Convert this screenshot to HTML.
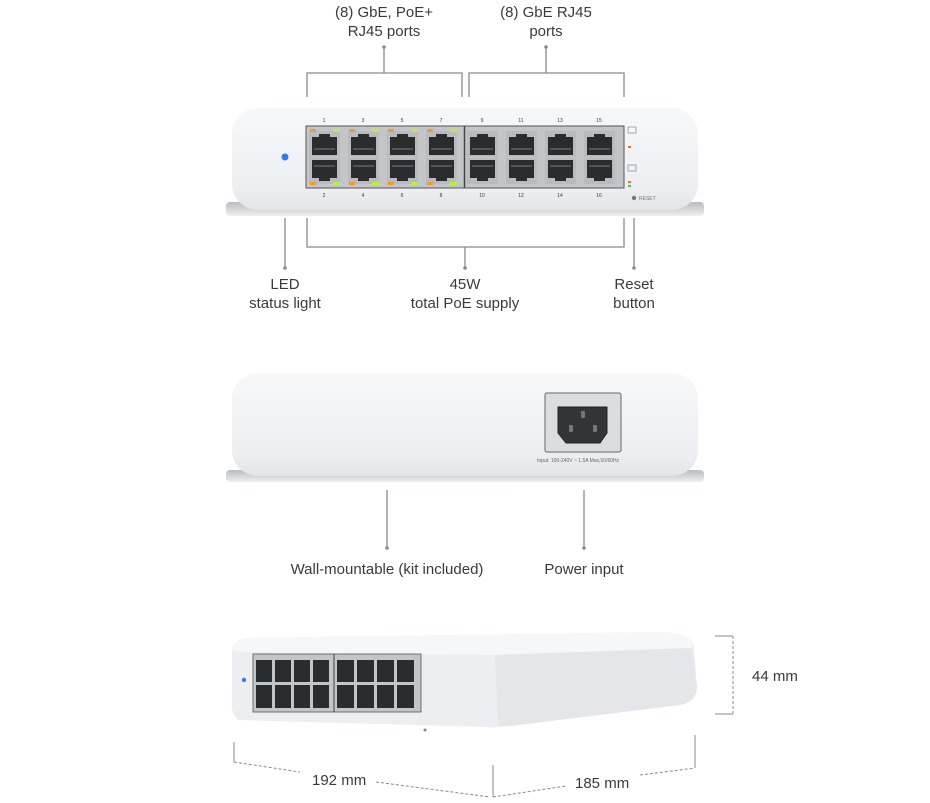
<!DOCTYPE html>
<html><head><meta charset="utf-8"><style>
html,body{margin:0;padding:0;background:#fff;width:930px;height:803px;overflow:hidden}
svg{display:block}
text{font-family:"Liberation Sans",sans-serif;fill:#3a3a3a}
</style></head><body>
<svg width="930" height="803" viewBox="0 0 930 803" xmlns="http://www.w3.org/2000/svg">
<defs>
<linearGradient id="body" x1="0" y1="0" x2="0" y2="1">
<stop offset="0" stop-color="#f7f8fa"/><stop offset="0.8" stop-color="#eceef1"/><stop offset="1" stop-color="#e2e4e8"/>
</linearGradient>
<linearGradient id="base" x1="0" y1="0" x2="0" y2="1">
<stop offset="0" stop-color="#b8bbc0"/><stop offset="1" stop-color="#eef0f2"/>
</linearGradient>
<g id="jackT">
<rect x="0" y="0" width="31" height="26" fill="#b9bbbe"/>
<path d="M3 6 H10 V3 H21 V6 H28 V24 H3 Z" fill="#2a2c2e"/>
<rect x="5" y="17" width="21" height="2" fill="#555"/>
</g>
<g id="jackB">
<rect x="0" y="0" width="31" height="26" fill="#b9bbbe"/>
<path d="M3 2 H28 V20 H21 V23 H10 V20 H3 Z" fill="#2a2c2e"/>
<rect x="5" y="7" width="21" height="2" fill="#555"/>
</g>
</defs>

<!-- Top labels -->
<g font-size="15" text-anchor="middle">
<text x="384" y="17">(8) GbE, PoE+</text>
<text x="384" y="36">RJ45 ports</text>
<text x="546" y="17">(8) GbE RJ45</text>
<text x="546" y="36">ports</text>
</g>
<g stroke="#8a8a8a" stroke-width="1.3" fill="none">
<path d="M307 97 V73 H462 V97"/><path d="M384 73 V47"/>
<path d="M469 97 V73 H624 V97"/><path d="M546 73 V47"/>
<path d="M307 218 V247 H624 V218"/><path d="M465 247 V268"/>
<path d="M285 218 V268"/><path d="M634 218 V268"/>
<path d="M387 490 V548"/><path d="M584 490 V548"/>
</g>
<g fill="#8a8a8a">
<circle cx="384" cy="47" r="1.8"/><circle cx="546" cy="47" r="1.8"/>
<circle cx="465" cy="268" r="1.8"/><circle cx="285" cy="268" r="1.8"/><circle cx="634" cy="268" r="1.8"/>
<circle cx="387" cy="548" r="1.8"/><circle cx="584" cy="548" r="1.8"/>
</g>
<g font-size="15" text-anchor="middle">
<text x="285" y="289">LED</text><text x="285" y="308">status light</text>
<text x="465" y="289">45W</text><text x="465" y="308">total PoE supply</text>
<text x="634" y="289">Reset</text><text x="634" y="308">button</text>
<text x="387" y="574">Wall-mountable (kit included)</text>
<text x="584" y="574">Power input</text>
</g>

<!-- Top device -->
<rect x="226" y="202" width="478" height="14" rx="4" fill="url(#base)"/>
<rect x="232" y="108" width="466" height="102" rx="26" fill="url(#body)"/>
<circle cx="285" cy="157" r="3.5" fill="#2f7cf0"/>
<rect x="306" y="126" width="318" height="62" fill="#c3c5c8" stroke="#555" stroke-width="1"/>
<line x1="464.5" y1="126" x2="464.5" y2="188" stroke="#444" stroke-width="1.5"/>
<g>
<use href="#jackT" x="309" y="131"/><use href="#jackT" x="348" y="131"/><use href="#jackT" x="387" y="131"/><use href="#jackT" x="426" y="131"/>
<use href="#jackT" x="467" y="131"/><use href="#jackT" x="506" y="131"/><use href="#jackT" x="545" y="131"/><use href="#jackT" x="584" y="131"/>
<use href="#jackB" x="309" y="158"/><use href="#jackB" x="348" y="158"/><use href="#jackB" x="387" y="158"/><use href="#jackB" x="426" y="158"/>
<use href="#jackB" x="467" y="158"/><use href="#jackB" x="506" y="158"/><use href="#jackB" x="545" y="158"/><use href="#jackB" x="584" y="158"/>
</g>
<g>
<rect x="310" y="129" width="6" height="3" fill="#f29a2e"/><rect x="333" y="129" width="7" height="3" fill="#b8ee3c"/>
<rect x="349" y="129" width="6" height="3" fill="#f29a2e"/><rect x="372" y="129" width="7" height="3" fill="#b8ee3c"/>
<rect x="388" y="129" width="6" height="3" fill="#f29a2e"/><rect x="411" y="129" width="7" height="3" fill="#b8ee3c"/>
<rect x="427" y="129" width="6" height="3" fill="#f29a2e"/><rect x="450" y="129" width="7" height="3" fill="#b8ee3c"/>
<rect x="310" y="182" width="6" height="3" fill="#f29a2e"/><rect x="333" y="182" width="7" height="3" fill="#b8ee3c"/>
<rect x="349" y="182" width="6" height="3" fill="#f29a2e"/><rect x="372" y="182" width="7" height="3" fill="#b8ee3c"/>
<rect x="388" y="182" width="6" height="3" fill="#f29a2e"/><rect x="411" y="182" width="7" height="3" fill="#b8ee3c"/>
<rect x="427" y="182" width="6" height="3" fill="#f29a2e"/><rect x="450" y="182" width="7" height="3" fill="#b8ee3c"/>
</g>
<g font-size="5" text-anchor="middle" style="fill:#999">
<text x="324" y="122">1</text><text x="363" y="122">3</text><text x="402" y="122">5</text><text x="441" y="122">7</text>
<text x="482" y="122">9</text><text x="521" y="122">11</text><text x="560" y="122">13</text><text x="599" y="122">15</text>
<text x="324" y="197">2</text><text x="363" y="197">4</text><text x="402" y="197">6</text><text x="441" y="197">8</text>
<text x="482" y="197">10</text><text x="521" y="197">12</text><text x="560" y="197">14</text><text x="599" y="197">16</text>
</g>
<rect x="628" y="127" width="8" height="6" fill="none" stroke="#777" stroke-width="0.6"/>
<rect x="628" y="165" width="8" height="6" fill="none" stroke="#777" stroke-width="0.6"/>
<rect x="628" y="146" width="3" height="2" fill="#f07030"/>
<rect x="628" y="181" width="3" height="2" fill="#f07030"/><rect x="628" y="185" width="3" height="2" fill="#50c050"/>
<circle cx="634" cy="198" r="2.2" fill="#777"/>
<text x="639" y="200" font-size="5" style="fill:#777">RESET</text>

<!-- Middle device -->
<rect x="226" y="470" width="478" height="12" rx="4" fill="url(#base)"/>
<rect x="232" y="373" width="466" height="103" rx="26" fill="url(#body)"/>
<rect x="545" y="393" width="76" height="59" rx="2" fill="#dcdde0" stroke="#666" stroke-width="1"/>
<path d="M558 407 H607 V433 L600 443 H566 L558 433 Z" fill="#333436" stroke="#222"/>
<rect x="581" y="411" width="4" height="7" rx="1" fill="#777"/>
<rect x="569" y="425" width="4" height="7" rx="1" fill="#777"/>
<rect x="593" y="425" width="4" height="7" rx="1" fill="#777"/>
<text x="537" y="462" font-size="5" style="fill:#666">Input: 100-240V ~ 1.5A Max,50/60Hz</text>

<!-- Bottom perspective device -->
<path d="M238 720 Q230 712 232 700 L232 650 Q234 640 246 638 L660 632 Q690 633 694 645 L697 688 Q696 702 680 705 L510 726 Q495 728 485 727 Z" fill="#eceef1"/>
<path d="M232 650 Q234 640 246 638 L660 632 Q690 633 694 645 L690 648 L500 655 L240 652 Z" fill="#f6f7f9"/>
<path d="M495 655 L692 648 L697 688 Q696 702 680 705 L510 726 L498 726 Z" fill="#e4e6ea"/>
<rect x="253" y="654" width="168" height="58" fill="#c3c5c8" stroke="#555" stroke-width="0.8"/>
<line x1="334" y1="654" x2="334" y2="712" stroke="#444"/>
<g fill="#2a2c2e">
<rect x="256" y="660" width="16" height="22"/><rect x="275" y="660" width="16" height="22"/><rect x="294" y="660" width="16" height="22"/><rect x="313" y="660" width="16" height="22"/>
<rect x="337" y="660" width="17" height="22"/><rect x="357" y="660" width="17" height="22"/><rect x="377" y="660" width="17" height="22"/><rect x="397" y="660" width="17" height="22"/>
<rect x="256" y="685" width="16" height="23"/><rect x="275" y="685" width="16" height="23"/><rect x="294" y="685" width="16" height="23"/><rect x="313" y="685" width="16" height="23"/>
<rect x="337" y="685" width="17" height="23"/><rect x="357" y="685" width="17" height="23"/><rect x="377" y="685" width="17" height="23"/><rect x="397" y="685" width="17" height="23"/>
</g>
<circle cx="244" cy="680" r="2.2" fill="#2f7cf0"/>
<circle cx="425" cy="730" r="1.5" fill="#888"/>

<!-- Dimensions -->
<g stroke="#888" stroke-width="1" fill="none">
<path d="M715 636 H733 M715 714 H733"/>
<path d="M733 636 V714" stroke-dasharray="3,2"/>
<path d="M234 742 V762 M493 765 V797 M695 735 V768"/>
<path d="M234 762 L300 772 M376 782 L490 797 M493 797 L566 786 M640 775 L695 768" stroke-dasharray="3,2"/>
</g>
<g font-size="15">
<text x="752" y="681">44 mm</text>
<text x="312" y="785">192 mm</text>
<text x="575" y="788">185 mm</text>
</g>
</svg>
</body></html>
